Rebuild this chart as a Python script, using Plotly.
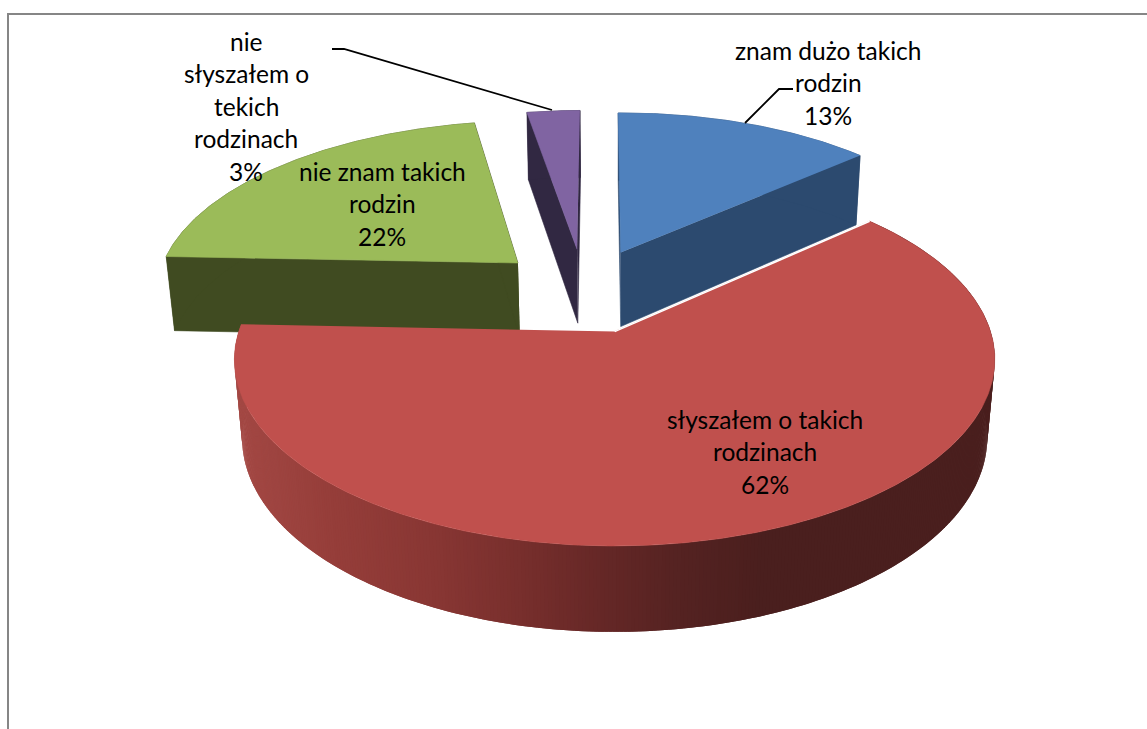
import numpy as np
import plotly.graph_objects as go

# ---- data ----
categories = ["znam dużo takich rodzin", "słyszałem o takich rodzinach",
              "nie znam takich rodzin", "nie słyszałem o tekich rodzinach"]
values = [13.5, 62.25, 21.5, 2.75]
label_lines = [["znam dużo takich", "rodzin", "13%"],
               ["słyszałem o takich", "rodzinach", "62%"],
               ["nie znam takich", "rodzin", "22%"],
               ["nie", "słyszałem o", "tekich", "rodzinach", "3%"]]

# ---- style / layout ----
top_colors = ["#4F81BD", "#C0504D", "#9BBB59", "#8064A2"]
wall_colors = ["#2C4A6F", None, "#404B21", "#312842"]
draw_order = [3, 2, 0, 1]
first_angle = -0.4
explosion = 0.25
label_x = [828, 765, 382, 246]
label_y = [50, 419, 171, 41]
line_gap = 32.6
FONT = "Lato"
FONT_SIZE = 24.5
W, H = 1147, 729

# perspective of the pie plane (pixel axes)
OX, OY, SX, SY, K, DEPTH, DW = 617.5, 331, 375.7, 182, 0.15, 79, 0.02
CU, CV = -0.092, -0.232   # centre of the un-exploded pie, in radius units


def project(U, V, z=0):
    w = 1 - K * V + DW * z
    return OX + SX * U / w, OY + (SY * V + DEPTH * z) / w


def red_wall(x):
    stops_x = [240, 330, 430, 520, 600, 680, 760, 1000]
    r = [163, 150, 137, 120, 102, 85, 75, 74]
    g = [72, 62, 55, 47, 40, 35, 31, 31]
    b = [68, 58, 52, 45, 39, 34, 30, 30]
    return "rgb(%d,%d,%d)" % (np.interp(x, stops_x, r), np.interp(x, stops_x, g), np.interp(x, stops_x, b))


fig = go.Figure()


def poly(xs, ys, color, edge=0.6):
    fig.add_trace(go.Scatter(x=list(xs), y=list(ys), mode="lines", fill="toself", fillcolor=color,
                             line=dict(color=color, width=edge), hoverinfo="skip", showlegend=False))


fractions = np.array(values) / sum(values) * 360
starts = first_angle + np.concatenate([[0], np.cumsum(fractions)[:-1]])

for i in draw_order:
    a0, a1 = starts[i], starts[i] + fractions[i]
    mid = np.radians((a0 + a1) / 2)
    au, av = CU + explosion * np.sin(mid), CV - explosion * np.cos(mid)
    th = np.radians(np.linspace(a0, a1, max(int(a1 - a0) * 2, 4) + 1))
    ru, rv = au + np.sin(th), av - np.cos(th)
    tx, ty = project(ru, rv)
    bx, by = project(ru, rv, 1)
    ax, ay = project(au, av)
    abx, aby = project(au, av, 1)
    if wall_colors[i]:
        col = wall_colors[i]
        poly([ax, tx[0], bx[0], abx], [ay, ty[0], by[0], aby], col)
        poly([ax, tx[-1], bx[-1], abx], [ay, ty[-1], by[-1], aby], col)
        poly(list(tx) + list(bx[::-1]), list(ty) + list(by[::-1]), col)
    else:
        # shaded rim: each strip overlaps the next so no seams show
        n = len(th) - 1
        for j in range(n):
            k = min(j + 2, n)
            poly(list(tx[j:k + 1]) + list(bx[j:k + 1][::-1]), list(ty[j:k + 1]) + list(by[j:k + 1][::-1]),
                 red_wall((tx[j] + tx[j + 1]) / 2), edge=0)
    poly([ax] + list(tx), [ay] + list(ty), top_colors[i])
    if i == 1:
        fig.add_trace(go.Scatter(x=[ax, tx[0]], y=[ay, ty[0]], mode="lines", line=dict(color="white", width=1.5),
                                 hoverinfo="skip", showlegend=False))

# leader lines
leaders = [([793, 779, 745], [89, 89, 123]), ([332, 344, 552], [49, 49, 110])]
for lx, ly in leaders:
    fig.add_trace(go.Scatter(x=lx, y=ly, mode="lines", line=dict(color="black", width=1.8),
                             hoverinfo="skip", showlegend=False))

annotations = []
for lines, x0, y0 in zip(label_lines, label_x, label_y):
    for n, txt in enumerate(lines):
        annotations.append(dict(x=x0, y=y0 + n * line_gap, text=txt, showarrow=False, xanchor="center",
                                yanchor="middle", font=dict(family=FONT, size=FONT_SIZE, color="black")))

fig.update_layout(
    width=W, height=H, margin=dict(l=0, r=0, t=0, b=0), paper_bgcolor="white", plot_bgcolor="white",
    xaxis=dict(range=[0, W], visible=False, fixedrange=True),
    yaxis=dict(range=[H, 0], visible=False, fixedrange=True),
    showlegend=False, annotations=annotations,
    shapes=[dict(type="rect", xref="x", yref="y", x0=8, y0=14, x1=W + 20, y1=H + 20,
                 line=dict(color="#868686", width=2), layer="below")],
)
fig.write_html("out.html", config=dict(displayModeBar=False),
               post_script="document.body.style.margin='0';document.body.style.overflow='hidden';")
